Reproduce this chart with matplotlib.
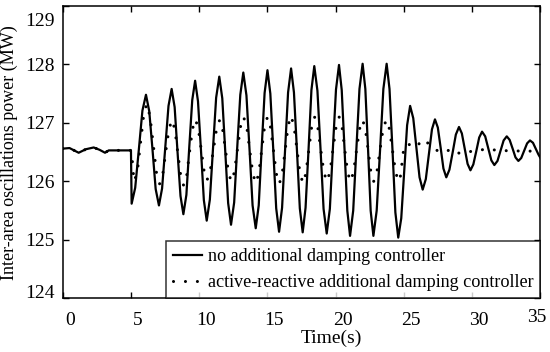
import matplotlib
matplotlib.use("Agg")
import matplotlib.pyplot as plt
from matplotlib.transforms import ScaledTranslation

plt.rcParams['font.family'] = ['Liberation Serif', 'DejaVu Serif']

# values (time in s, power in MW)
t_pre = [0.0, 0.5, 1.17, 1.7, 2.27, 2.7, 3.1, 3.37, 5.0]
p_pre = [126.56, 126.57, 126.49, 126.55, 126.58, 126.54, 126.49, 126.53, 126.53]

# no additional damping controller
t_no = t_pre + [
    5.05, 5.31, 5.58, 5.84, 6.10, 6.34, 6.58, 6.81, 7.05, 7.28, 7.52, 7.75,
    7.98, 8.20, 8.41, 8.63, 8.84, 9.06, 9.27, 9.49, 9.70, 9.91, 10.13, 10.34,
    10.55, 10.78, 11.01, 11.24, 11.47, 11.69, 11.90, 12.12, 12.33, 12.56, 12.78, 13.01,
    13.23, 13.46, 13.69, 13.91, 14.14, 14.36, 14.57, 14.79, 15.00, 15.21, 15.43, 15.64,
    15.85, 16.07, 16.29, 16.51, 16.73, 16.94, 17.16, 17.37, 17.58, 17.79, 18.01, 18.22,
    18.43, 18.66, 18.89, 19.11, 19.34, 19.57, 19.79, 20.02, 20.24, 20.44, 20.65, 20.85,
    21.05, 21.28, 21.51, 21.74, 21.97, 22.17, 22.37, 22.56, 22.76, 23.00, 23.25, 23.49,
    23.73, 23.94, 24.16, 24.37, 24.58, 24.80, 25.02, 25.23, 25.45, 25.68, 25.91, 26.14,
    26.37, 26.60, 26.82, 27.05, 27.27, 27.48, 27.69, 27.89, 28.10, 28.33, 28.57, 28.80,
    29.03, 29.24, 29.45, 29.66, 29.87, 30.08, 30.30, 30.51, 30.72, 30.95, 31.17, 31.40,
    31.62, 31.85, 32.08, 32.30, 32.53, 32.74, 32.96, 33.17, 33.38, 33.59, 33.81, 34.02,
    34.23, 34.45, 34.65, 34.85, 35.00]
p_no = p_pre + [
    125.62, 125.89, 126.55, 127.21, 127.48, 127.20, 126.54, 125.87, 125.59, 125.88, 126.59, 127.29,
    127.58, 127.27, 126.51, 125.75, 125.44, 125.77, 126.58, 127.39, 127.72, 127.37, 126.53, 125.68,
    125.33, 125.69, 126.56, 127.43, 127.79, 127.42, 126.53, 125.63, 125.26, 125.64, 126.56, 127.48,
    127.86, 127.47, 126.53, 125.59, 125.20, 125.59, 126.55, 127.51, 127.90, 127.50, 126.52, 125.54,
    125.14, 125.55, 126.54, 127.52, 127.93, 127.52, 126.53, 125.54, 125.13, 125.55, 126.55, 127.56,
    127.97, 127.55, 126.54, 125.53, 125.11, 125.53, 126.55, 127.57, 127.99, 127.56, 126.53, 125.50,
    125.07, 125.50, 126.54, 127.58, 128.01, 127.58, 126.54, 125.50, 125.07, 125.50, 126.54, 127.58,
    128.01, 127.58, 126.53, 125.47, 125.04, 125.37, 126.17, 126.96, 127.29, 127.08, 126.58, 126.07,
    125.86, 126.04, 126.46, 126.89, 127.06, 126.92, 126.57, 126.22, 126.07, 126.20, 126.50, 126.80,
    126.93, 126.82, 126.56, 126.30, 126.19, 126.29, 126.52, 126.75, 126.85, 126.77, 126.57, 126.36,
    126.28, 126.35, 126.53, 126.70, 126.77, 126.71, 126.56, 126.41, 126.35, 126.40, 126.53, 126.65,
    126.70, 126.66, 126.56, 126.46, 126.40]

# active-reactive additional damping controller
t_ar = t_pre + [
    5.10, 5.18, 5.25, 5.48, 5.70, 5.93, 6.15, 6.39, 6.63, 6.86, 7.10, 7.33,
    7.55, 7.78, 8.00, 8.22, 8.43, 8.65, 8.86, 9.08, 9.29, 9.51, 9.72, 9.93,
    10.15, 10.36, 10.57, 10.80, 11.04, 11.27, 11.50, 11.71, 11.93, 12.14, 12.35, 12.58,
    12.80, 13.03, 13.25, 13.48, 13.70, 13.93, 14.15, 14.36, 14.58, 14.79, 15.00, 15.22,
    15.44, 15.65, 15.87, 16.08, 16.30, 16.51, 16.72, 16.94, 17.16, 17.38, 17.60, 17.81,
    18.03, 18.24, 18.45, 18.68, 18.90, 19.13, 19.35, 19.58, 19.80, 20.03, 20.25, 20.46,
    20.66, 20.87, 21.07, 21.30, 21.52, 21.75, 21.97, 22.17, 22.38, 22.58, 22.78, 23.01,
    23.24, 23.47, 23.70, 23.93, 24.16, 24.39, 24.62, 24.75, 24.95, 25.30, 25.60, 26.00,
    26.45, 27.00, 27.60, 28.10, 28.60, 29.05, 29.60, 30.10, 31.00, 32.00, 33.00, 34.00,
    35.00]
p_ar = p_pre + [
    126.35, 126.12, 126.00, 126.19, 126.66, 127.13, 127.32, 127.12, 126.64, 126.16, 125.96, 126.12,
    126.51, 126.89, 127.05, 126.89, 126.49, 126.09, 125.93, 126.09, 126.50, 126.90, 127.06, 126.91,
    126.54, 126.17, 126.02, 126.17, 126.54, 126.90, 127.05, 126.90, 126.53, 126.15, 126.00, 126.16,
    126.55, 126.94, 127.10, 126.94, 126.54, 126.13, 125.97, 126.13, 126.54, 126.94, 127.10, 126.93,
    126.53, 126.13, 125.96, 126.13, 126.54, 126.95, 127.12, 126.95, 126.55, 126.14, 125.97, 126.13,
    126.54, 126.94, 127.10, 126.94, 126.55, 126.16, 126.00, 126.16, 126.55, 126.94, 127.10, 126.94,
    126.55, 126.16, 126.00, 126.15, 126.53, 126.90, 127.05, 126.90, 126.53, 126.15, 126.00, 126.15,
    126.53, 126.90, 127.05, 126.90, 126.53, 126.15, 126.00, 126.10, 126.50, 126.65, 126.58, 126.62,
    126.72, 126.60, 126.50, 126.52, 126.55, 126.48, 126.50, 126.52, 126.55, 126.53, 126.52, 126.52,
    126.51]

x_ticks = [0, 5, 10, 15, 20, 25, 30, 35]
y_ticks = [124, 125, 126, 127, 128, 129]

fig = plt.figure(figsize=(5.5, 3.52), dpi=100)
ax = fig.add_axes([0.114, 0.152, 0.8687, 0.8315])

ax.plot(t_no, p_no, color='black', lw=1.6, label='no additional damping controller')
ax.plot(t_ar, p_ar, color='black', lw=2.2, linestyle=(0, (0.01, 3.9)),
        dash_capstyle='round', label='active-reactive additional damping controller', zorder=3)

ax.set_xlim(0, 35)
ax.set_ylim(124, 129)
ax.set_xticks(x_ticks)
ax.set_yticks(y_ticks)
ax.tick_params(axis='both', direction='in', top=True, right=True, length=4, width=1, labelsize=14)
ax.tick_params(axis='x', pad=10)
ax.tick_params(axis='y', pad=6)
for s in ax.spines.values():
    s.set_linewidth(1.1)

ax.set_xlabel('Time(s)', fontsize=14)
ax.xaxis.set_label_coords(0.5627, -0.105)
ax.set_ylabel('Inter-area oscillations power (MW)', fontsize=13)
ax.yaxis.set_label_coords(-0.094, 0.497)

# the tick labels in the source sit a little off their ticks
def px(dx, dy):
    return ScaledTranslation(dx / 100, dy / 100, fig.dpi_scale_trans)

for i, tk in enumerate(ax.xaxis.get_major_ticks()):
    if i < 7:
        tk.label1.set_transform(tk.label1.get_transform() + px(7, 0))
    else:
        tk.label1.set_transform(tk.label1.get_transform() + px(-4, 3))
yt = ax.yaxis.get_major_ticks()
yt[0].label1.set_transform(yt[0].label1.get_transform() + px(0, 7))
yt[-1].label1.set_transform(yt[-1].label1.get_transform() + px(0, -14))

leg = ax.legend(loc='lower right', borderaxespad=0, fontsize=13.1, frameon=True,
                fancybox=False, handlelength=1.6, handletextpad=0.3,
                borderpad=0.4, labelspacing=0.5)
leg.get_frame().set_edgecolor('black')
leg.get_frame().set_linewidth(1.1)

fig.savefig('out.png', dpi=100)
